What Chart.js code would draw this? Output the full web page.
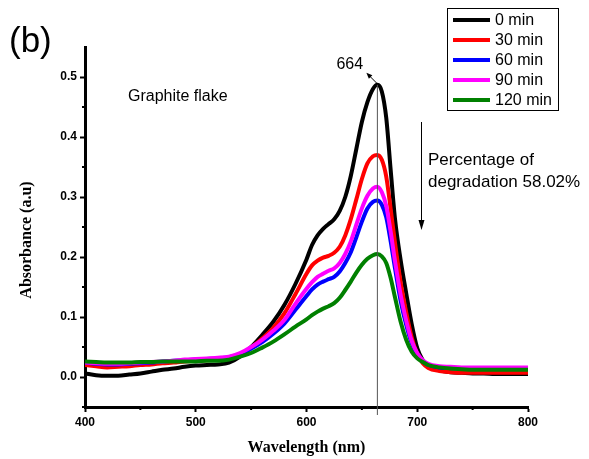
<!DOCTYPE html>
<html>
<head>
<meta charset="utf-8">
<title>Absorbance spectra</title>
<script src="https://cdn.jsdelivr.net/npm/chart.js@4.4.1/dist/chart.umd.min.js"></script>
<style>
    html, body { margin: 0; padding: 0; background: #fff; }
    #wrap { width: 589px; height: 459px; position: relative; }
</style>
</head>
<body>
<div id="wrap"><canvas id="spectra"></canvas></div>
<script>
// UV-vis spectra, graphite flake, 0-120 min

const wavelength = [400, 410, 420, 430, 440, 450, 460, 470, 480, 490, 500, 510, 520, 530, 540, 550, 560, 570, 580, 590,
    600, 605, 610, 615, 620, 625, 630, 635, 640, 645, 650, 655, 660, 664, 668, 672, 676, 680, 685, 690, 695, 700, 705, 710,
    720, 730, 740, 750, 760, 770, 780, 790, 800];

const abs0 = [0.006, 0.003, 0.002, 0.002, 0.004, 0.006, 0.009, 0.012, 0.014, 0.017, 0.019, 0.020, 0.021, 0.024, 0.034, 0.050, 0.070, 0.092, 0.120, 0.155,
    0.196, 0.220, 0.236, 0.247, 0.255, 0.263, 0.277, 0.300, 0.335, 0.380, 0.425, 0.458, 0.480, 0.487, 0.476, 0.432, 0.345, 0.262, 0.195, 0.140, 0.088, 0.048, 0.028, 0.018,
    0.011, 0.008, 0.007, 0.006, 0.006, 0.005, 0.005, 0.005, 0.005];

const abs30 = [0.020, 0.018, 0.016, 0.017, 0.018, 0.020, 0.021, 0.023, 0.024, 0.026, 0.027, 0.028, 0.029, 0.031, 0.036, 0.049, 0.064, 0.082, 0.106, 0.138,
    0.172, 0.186, 0.194, 0.199, 0.202, 0.207, 0.217, 0.236, 0.263, 0.296, 0.330, 0.356, 0.368, 0.370, 0.362, 0.334, 0.280, 0.222, 0.158, 0.108, 0.066, 0.038, 0.023, 0.015,
    0.010, 0.008, 0.007, 0.007, 0.007, 0.007, 0.007, 0.007, 0.007];

const abs60 = [0.024, 0.022, 0.021, 0.021, 0.022, 0.023, 0.024, 0.026, 0.027, 0.028, 0.029, 0.030, 0.031, 0.033, 0.038, 0.047, 0.058, 0.072, 0.089, 0.112,
    0.135, 0.146, 0.154, 0.159, 0.163, 0.167, 0.176, 0.190, 0.208, 0.233, 0.259, 0.281, 0.292, 0.294, 0.287, 0.266, 0.226, 0.180, 0.127, 0.087, 0.056, 0.037, 0.026, 0.020,
    0.016, 0.015, 0.014, 0.014, 0.014, 0.014, 0.014, 0.014, 0.014];

const abs90 = [0.024, 0.023, 0.022, 0.022, 0.023, 0.024, 0.025, 0.026, 0.027, 0.029, 0.030, 0.031, 0.032, 0.034, 0.040, 0.050, 0.062, 0.077, 0.095, 0.122,
    0.147, 0.158, 0.167, 0.172, 0.177, 0.181, 0.190, 0.205, 0.226, 0.254, 0.281, 0.302, 0.314, 0.317, 0.308, 0.285, 0.242, 0.192, 0.137, 0.094, 0.060, 0.040, 0.028, 0.022,
    0.018, 0.017, 0.016, 0.016, 0.016, 0.016, 0.016, 0.016, 0.016];

const abs120 = [0.026, 0.025, 0.024, 0.024, 0.024, 0.025, 0.025, 0.026, 0.026, 0.026, 0.026, 0.027, 0.027, 0.029, 0.034, 0.040, 0.049, 0.059, 0.071, 0.084,
    0.096, 0.103, 0.109, 0.114, 0.118, 0.123, 0.132, 0.145, 0.159, 0.174, 0.187, 0.197, 0.203, 0.205, 0.201, 0.190, 0.165, 0.132, 0.092, 0.062, 0.042, 0.031, 0.025, 0.020,
    0.016, 0.014, 0.013, 0.012, 0.012, 0.012, 0.012, 0.012, 0.012];

const seriesLabels = ['0 min', '30 min', '60 min', '90 min', '120 min'];
const seriesColors = ['#000000', '#ff0000', '#0000ff', '#ff00ff', '#008000'];
const seriesValues = [abs0, abs30, abs60, abs90, abs120];

const xTicks = [400, 500, 600, 700, 800];
const yTicks = [0.0, 0.1, 0.2, 0.3, 0.4, 0.5];
const xMinorTicks = [450, 550, 650, 750];
const yMinorTicks = [-0.05, 0.05, 0.15, 0.25, 0.35, 0.45];

const peakWavelength = 664;
const peakAbsorbance = 0.487;

document.addEventListener('DOMContentLoaded', function() {
    initSpectraChart();
});

function initSpectraChart() {
    const canvas = document.getElementById('spectra');
    canvas.width = 589;
    canvas.height = 459;
    const ctx = canvas.getContext('2d');

    const sans = 'Arial, "Liberation Sans", sans-serif';
    const serif = '"Times New Roman", "Liberation Serif", serif';

    const datasets = seriesValues.map(function(values, i) {
        return {
            label: seriesLabels[i],
            data: values.map(function(v, j) { return { x: wavelength[j], y: v }; }),
            borderColor: seriesColors[i],
            backgroundColor: seriesColors[i],
            borderWidth: 4,
            pointRadius: 0,
            cubicInterpolationMode: 'monotone',
            fill: false,
            // first series at the bottom, last one on top
            order: seriesValues.length - i
        };
    });

    // arrow helper
    function arrow(c, x1, y1, x2, y2, head, width) {
        const ang = Math.atan2(y2 - y1, x2 - x1);
        c.beginPath();
        c.moveTo(x1, y1);
        c.lineTo(x2 - Math.cos(ang) * head * 0.8, y2 - Math.sin(ang) * head * 0.8);
        c.stroke();
        c.beginPath();
        c.moveTo(x2, y2);
        c.lineTo(x2 - head * Math.cos(ang) + width * Math.sin(ang), y2 - head * Math.sin(ang) - width * Math.cos(ang));
        c.lineTo(x2 - head * Math.cos(ang) - width * Math.sin(ang), y2 - head * Math.sin(ang) + width * Math.cos(ang));
        c.closePath();
        c.fill();
    }

    const annotations = {
        id: 'annotations',
        afterDatasetsDraw: function(chart) {
            const c = chart.ctx;
            const xs = chart.scales.x;
            const ys = chart.scales.y;
            const px = xs.getPixelForValue(peakWavelength);
            const py = ys.getPixelForValue(peakAbsorbance);

            c.save();
            // peak marker line
            c.strokeStyle = '#555';
            c.lineWidth = 1;
            c.beginPath();
            c.moveTo(px, py);
            c.lineTo(px, chart.chartArea.bottom + 8);
            c.stroke();

            // small arrow up to the peak label
            c.strokeStyle = '#000';
            c.fillStyle = '#000';
            arrow(c, px, py - 1, px - 11, py - 12, 6, 2.5);

            // minor ticks
            c.lineWidth = 2;
            c.beginPath();
            xMinorTicks.forEach(function(v) {
                const x = xs.getPixelForValue(v);
                c.moveTo(x, chart.chartArea.bottom);
                c.lineTo(x, chart.chartArea.bottom + 3);
            });
            yMinorTicks.forEach(function(v) {
                const y = ys.getPixelForValue(v);
                c.moveTo(chart.chartArea.left, y);
                c.lineTo(chart.chartArea.left - 3, y);
            });
            c.stroke();
            c.restore();
        },
        afterDraw: function(chart) {
            const c = chart.ctx;
            const xs = chart.scales.x;
            const ys = chart.scales.y;
            const px = xs.getPixelForValue(peakWavelength);
            const py = ys.getPixelForValue(peakAbsorbance);

            c.save();
            c.fillStyle = '#000';
            c.strokeStyle = '#000';

            c.font = '35px ' + sans;
            c.textBaseline = 'alphabetic';
            c.fillText('(b)', 9, 52);

            c.font = '16px ' + sans;
            c.textBaseline = 'middle';
            c.fillText('Graphite flake', 128, 97);
            c.fillText(String(peakWavelength), px - 41, py - 20);

            // percentage note with down arrow
            c.lineWidth = 1;
            arrow(c, 421.5, 122, 421.5, 230, 10, 3);
            c.font = '17px ' + sans;
            c.textBaseline = 'alphabetic';
            c.fillText('Percentage of', 428, 165);
            c.fillText('degradation 58.02%', 428, 187);

            // legend box
            c.lineWidth = 1;
            c.strokeRect(447.5, 8.5, 111, 102);
            c.font = '16px ' + sans;
            c.textBaseline = 'middle';
            chart.data.datasets.forEach(function(ds, i) {
                const y = 20 + i * 20;
                c.strokeStyle = ds.borderColor;
                c.lineWidth = 4;
                c.beginPath();
                c.moveTo(453, y);
                c.lineTo(490, y);
                c.stroke();
                c.fillStyle = '#000';
                c.fillText(ds.label, 495, y + 1);
            });

            // axis titles
            c.fillStyle = '#000';
            c.font = 'bold 16px ' + serif;
            c.textAlign = 'center';
            c.fillText('Wavelength (nm)', (chart.chartArea.left + chart.chartArea.right) / 2, 448);
            c.translate(27, 240);
            c.rotate(-Math.PI / 2);
            c.fillText('Absorbance (a.u)', 0, 0);
            c.restore();
        }
    };

    new Chart(ctx, {
        type: 'line',
        data: { datasets: datasets },
        options: {
            responsive: false,
            animation: false,
            events: [],
            layout: {
                padding: { left: 0, right: 61, top: 47, bottom: 0 }
            },
            plugins: {
                legend: { display: false },
                tooltip: { enabled: false }
            },
            scales: {
                x: {
                    type: 'linear',
                    min: 400,
                    max: 800,
                    afterBuildTicks: function(scale) {
                        scale.ticks = xTicks.map(function(v) { return { value: v }; });
                    },
                    afterFit: function(scale) { scale.height = 52; },
                    border: { display: true, color: '#000', width: 3 },
                    grid: { drawOnChartArea: false, drawTicks: true, tickLength: 5, tickWidth: 2, tickColor: '#000' },
                    ticks: {
                        color: '#000',
                        padding: 3,
                        maxRotation: 0,
                        font: { family: sans, size: 12, weight: 'bold' }
                    }
                },
                y: {
                    min: -0.05,
                    max: 0.55,
                    afterBuildTicks: function(scale) {
                        scale.ticks = yTicks.map(function(v) { return { value: v }; });
                    },
                    afterFit: function(scale) { scale.width = 85; },
                    border: { display: true, color: '#000', width: 3 },
                    grid: { drawOnChartArea: false, drawTicks: true, tickLength: 5, tickWidth: 2, tickColor: '#000' },
                    ticks: {
                        color: '#000',
                        padding: 3,
                        font: { family: sans, size: 12, weight: 'bold' },
                        callback: function(v) { return Number(v).toFixed(1); }
                    }
                }
            }
        },
        plugins: [annotations]
    });
}
</script>
</body>
</html>
